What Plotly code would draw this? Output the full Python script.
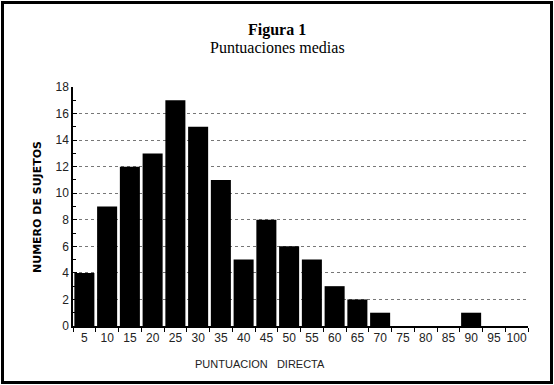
import plotly.graph_objects as go

categories = [5, 10, 15, 20, 25, 30, 35, 40, 45, 50, 55, 60, 65, 70, 75, 80, 85, 90, 95, 100]
counts = [4, 9, 12, 13, 17, 15, 11, 5, 8, 6, 5, 3, 2, 1, 0, 0, 0, 1, 0, 0]
y_ticks = [0, 2, 4, 6, 8, 10, 12, 14, 16, 18]

W, H = 554, 385
L, R, T, B = 73, 26, 87, 59
pw, ph = W - L - R, H - T - B

def px(x):
    return (x - L) / pw

def py(y):
    return (H - B - y) / ph

fig = go.Figure(go.Bar(x=categories, y=counts, marker=dict(color="black", line=dict(width=0)),
                       width=4.4))

fig.update_layout(
    width=W, height=H,
    margin=dict(l=L, r=R, t=T, b=B),
    paper_bgcolor="white", plot_bgcolor="white",
    showlegend=False,
    font=dict(family="Liberation Sans, Arial, sans-serif", color="#222", size=11),
)
fig.update_xaxes(
    range=[2.5, 102.5], tickvals=categories, ticktext=[str(c) for c in categories],
    ticks="", showgrid=False, showline=True, linecolor="black", linewidth=1.5,
    tickfont=dict(size=12), zeroline=False,
    minor=dict(tick0=2.5, dtick=5, ticks="outside", ticklen=4, tickcolor="black", showgrid=False),
)
fig.update_yaxes(
    range=[0, 18], tickvals=y_ticks, ticks="inside", ticklen=4, tickcolor="black",
    showgrid=True, gridcolor="#777", griddash="dot", gridwidth=0.8,
    showline=True, linecolor="black", linewidth=1.5, zeroline=False,
    tickfont=dict(size=12),
    minor=dict(dtick=1, ticks="inside", ticklen=3, tickcolor="black", showgrid=False),
)

fig.add_annotation(text="<b>Figura 1</b>", xref="paper", yref="paper", x=px(277), y=py(30),
                   showarrow=False, font=dict(family="Liberation Serif, Times New Roman, serif", size=16, color="black"),
                   xanchor="center", yanchor="middle")
fig.add_annotation(text="Puntuaciones medias", xref="paper", yref="paper", x=px(277), y=py(48),
                   showarrow=False, font=dict(family="Liberation Serif, Times New Roman, serif", size=16, color="black"),
                   xanchor="center", yanchor="middle")
fig.add_annotation(text="PUNTUACION&nbsp;&nbsp;&nbsp;DIRECTA", xref="paper", yref="paper", x=px(260), y=py(364),
                   showarrow=False, font=dict(size=11, color="#222"), xanchor="center", yanchor="middle")
fig.add_annotation(text="<b>NUMERO DE SUJETOS</b>", xref="paper", yref="paper", x=px(37), y=py(207),
                   showarrow=False, textangle=-90, font=dict(family="DejaVu Sans, sans-serif", size=11, color="black"),
                   xanchor="center", yanchor="middle")

fig.add_shape(type="rect", xref="paper", yref="paper", x0=px(2.5), x1=px(551.5), y0=py(382.5), y1=py(2.5),
              line=dict(color="black", width=3))

fig.write_html("out.html", config={"displayModeBar": False},
               post_script="document.body.style.margin='0';document.body.style.padding='0';document.body.style.overflow='hidden';")
